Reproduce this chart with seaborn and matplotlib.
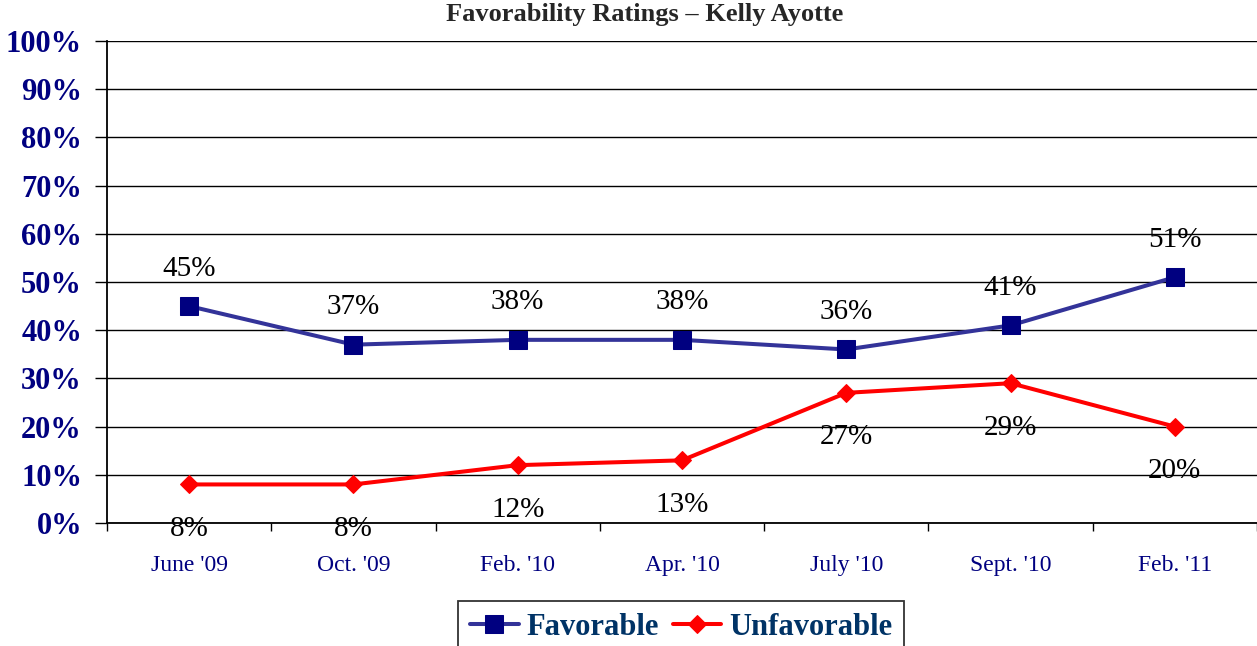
import numpy as np
import pandas as pd
import matplotlib
matplotlib.use("Agg")
import matplotlib.pyplot as plt
import seaborn as sns

categories = ["June '09", "Oct. '09", "Feb. '10", "Apr. '10", "July '10", "Sept. '10", "Feb. '11"]
favorable = [45, 37, 38, 38, 36, 41, 51]
unfavorable = [8, 8, 12, 13, 27, 29, 20]
y_ticks = [0, 10, 20, 30, 40, 50, 60, 70, 80, 90, 100]

sns.set_style("white")
plt.rcParams['font.family'] = ['Liberation Serif', 'DejaVu Serif']

fig = plt.figure(figsize=(12.57, 6.46), dpi=100)
ax = fig.add_axes([107 / 1257, 123 / 646, 1 - 107 / 1257, 482 / 646])

x = np.arange(len(categories))
df = pd.DataFrame({"x": x, "Favorable": favorable, "Unfavorable": unfavorable})

sns.lineplot(data=df, x="x", y="Favorable", ax=ax, color="#333399", linewidth=2.9,
             marker="s", markersize=13, markerfacecolor="#000080", markeredgecolor="#000080",
             label="Favorable")
sns.lineplot(data=df, x="x", y="Unfavorable", ax=ax, color="#FF0000", linewidth=2.9,
             marker="D", markersize=9.5, markerfacecolor="#FF0000", markeredgecolor="#FF0000",
             label="Unfavorable")

# value labels
for xi, v in zip(x, favorable):
    ax.annotate(f"{v}%", (xi, v), xytext=(0, 27), textcoords="offset points",
                ha="center", va="center", fontsize=21, color="black")
for xi, v in zip(x, unfavorable):
    ax.annotate(f"{v}%", (xi, v), xytext=(0, -32), textcoords="offset points",
                ha="center", va="center", fontsize=21, color="black")

ax.set_xlim(-0.5, len(categories) - 0.5)
ax.set_ylim(0, 100)
ax.set_yticks(y_ticks)
ax.set_yticklabels([f"{t}%" for t in y_ticks], fontsize=22, fontweight="bold", color="#000080")
ax.set_xticks(x)
ax.set_xticklabels(categories, fontsize=17, color="#000080")
ax.set_xticks(np.arange(-0.5, len(categories)), minor=True)
ax.tick_params(axis="x", which="major", length=0, pad=23)
ax.tick_params(axis="x", which="minor", length=6, width=1, direction="out", color="black", bottom=True)
ax.tick_params(axis="y", length=9, width=1, direction="out", color="black", left=True, pad=9)
ax.set_xlabel("")
ax.set_ylabel("")

ax.grid(axis="y", color="black", linewidth=1)
ax.set_axisbelow(True)
for side in ["top", "right"]:
    ax.spines[side].set_visible(False)
for side in ["left", "bottom"]:
    ax.spines[side].set_color("black")
    ax.spines[side].set_linewidth(1.3)

fig.suptitle("Favorability Ratings \u2013 Kelly Ayotte", x=645 / 1257, y=1 - 15 / 646,
             va="center", fontsize=19, fontweight="bold")

ax.get_legend().remove()
handles, labels = ax.get_legend_handles_labels()
leg = fig.legend(handles, labels, loc="upper center", bbox_to_anchor=(681 / 1257, 1 - 601 / 646),
                 borderaxespad=0, ncol=2, frameon=True, fancybox=False, edgecolor="black",
                 handlelength=1.6, columnspacing=0.45, handletextpad=0.25, borderpad=0.38,
                 prop={"family": "Liberation Serif", "weight": "bold", "size": 22})
leg.get_frame().set_linewidth(1.3)
for t in leg.get_texts():
    t.set_color("#003366")

fig.savefig("out.png", dpi=100)
